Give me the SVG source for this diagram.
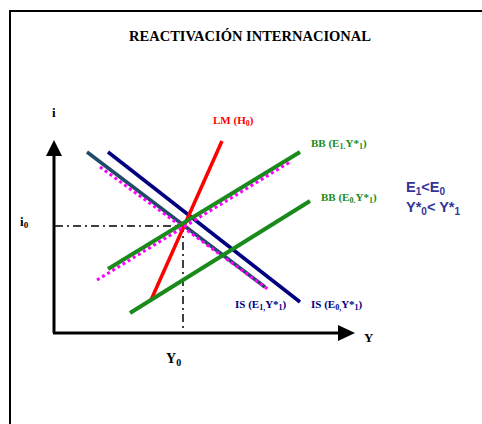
<svg xmlns="http://www.w3.org/2000/svg" width="482" height="424" viewBox="0 0 482 424">
<style>
.t{font-family:"Liberation Serif","Times New Roman",serif;font-weight:bold}
.s{font-family:"Liberation Sans",Arial,sans-serif;font-weight:bold}
.lab{font-size:11px}
.sub{font-size:8px}
</style>
<rect width="482" height="424" fill="#fff"/>
<g id="frame">
<line x1="10" y1="11" x2="482" y2="11" stroke="#000" stroke-width="2"/>
<line x1="10" y1="10" x2="10" y2="424" stroke="#000" stroke-width="2"/>
</g>
<g id="title"><text class="t" x="250" y="41" font-size="14.5" text-anchor="middle">REACTIVACIÓN INTERNACIONAL</text></g>
<g id="axes">
<line x1="54" y1="333" x2="54" y2="154" stroke="#000" stroke-width="3"/>
<polygon points="54,140 46,156 62,156" fill="#000"/>
<line x1="53" y1="333" x2="340" y2="333" stroke="#000" stroke-width="3"/>
<polygon points="355,333 338,325 338,341" fill="#000"/>
<text class="t" x="52" y="117" font-size="13">i</text>
<text class="t" x="364" y="342" font-size="13">Y</text>
<text class="t" x="20" y="226" font-size="13">i<tspan font-size="9" dy="2">0</tspan></text>
<text class="t" x="166" y="363" font-size="14">Y<tspan font-size="10" dy="3">0</tspan></text>
</g>
<g id="connectors">
<path d="M55 226H183V333" fill="none" stroke="#000" stroke-width="1.5" stroke-dasharray="8,4,2,4"/>
<line x1="87" y1="152" x2="265" y2="287" stroke="#1f4a68" stroke-width="3.5"/>
<line x1="100" y1="167" x2="269" y2="290" stroke="#ff00ff" stroke-width="3" stroke-dasharray="3,3"/>
<line x1="108" y1="152" x2="300" y2="302" stroke="#000080" stroke-width="3.5"/>
<line x1="151" y1="300" x2="222" y2="141" stroke="#ff0000" stroke-width="3.5"/>
<line x1="108" y1="269" x2="300" y2="152" stroke="#1a8a1a" stroke-width="4"/>
<line x1="97" y1="280" x2="290" y2="162" stroke="#ff00ff" stroke-width="3" stroke-dasharray="3,3"/>
<line x1="130" y1="313" x2="310" y2="201" stroke="#1a8a1a" stroke-width="4"/>
</g>
<g id="labels">
<text class="t lab" x="213" y="124" fill="#ff0000">LM (H<tspan class="sub" dy="2">0</tspan><tspan dy="-2">)</tspan></text>
<text class="t lab" x="311" y="147" fill="#1a8a1a">BB (E<tspan class="sub" dy="2">1.</tspan><tspan dy="-2">Y*</tspan><tspan class="sub" dy="2">1</tspan><tspan dy="-2">)</tspan></text>
<text class="t lab" x="321" y="201" fill="#1a8a1a">BB (E<tspan class="sub" dy="2">0.</tspan><tspan dy="-2">Y*</tspan><tspan class="sub" dy="2">1</tspan><tspan dy="-2">)</tspan></text>
<text class="t lab" x="235" y="308" fill="#000080">IS (E<tspan class="sub" dy="2">1,</tspan><tspan dy="-2">Y*</tspan><tspan class="sub" dy="2">1</tspan><tspan dy="-2">)</tspan></text>
<text class="t lab" x="311" y="308" fill="#000080">IS (E<tspan class="sub" dy="2">0,</tspan><tspan dy="-2">Y*</tspan><tspan class="sub" dy="2">1</tspan><tspan dy="-2">)</tspan></text>
<text class="s" x="406" y="192" font-size="14.5" fill="#333399">E<tspan font-size="10" dy="3">1</tspan><tspan dy="-3">&lt;E</tspan><tspan font-size="10" dy="3">0</tspan></text>
<text class="s" x="406" y="212" font-size="14.5" fill="#333399">Y*<tspan font-size="10" dy="3">0</tspan><tspan dy="-3">&lt; Y*</tspan><tspan font-size="10" dy="3">1</tspan></text>
</g>
</svg>
